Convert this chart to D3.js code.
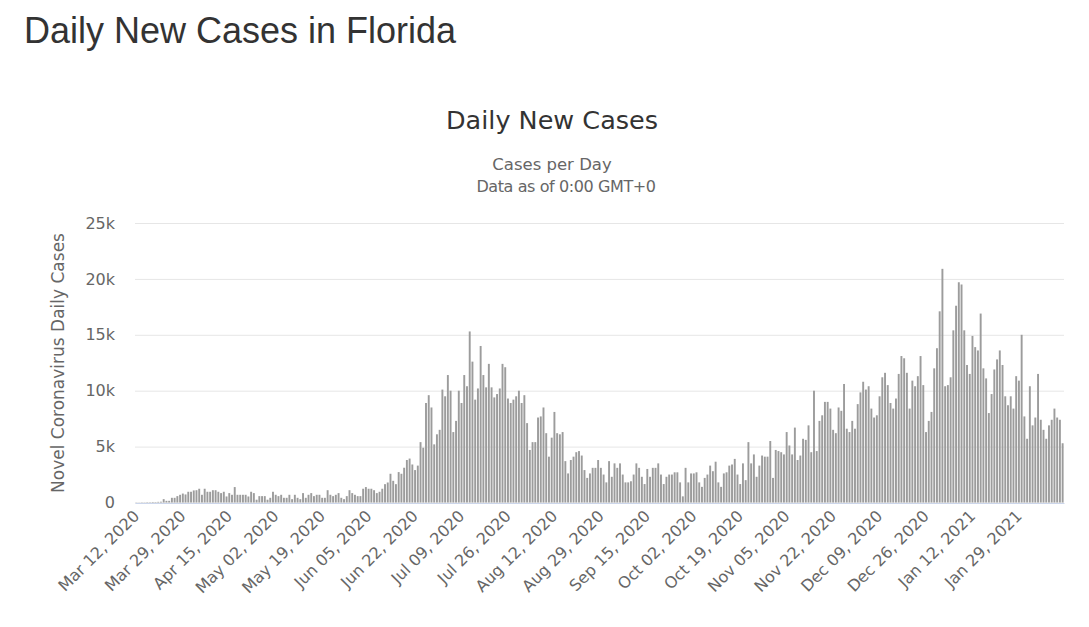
<!DOCTYPE html>
<html>
<head>
<meta charset="utf-8">
<script src="https://cdn.jsdelivr.net/npm/d3@7"></script>
<style>
  body { margin: 0; background: #fff; }
  text { font-family: "DejaVu Sans", sans-serif; }
</style>
</head>
<body>
<div id="chart"></div>
<script>
// daily new cases in Florida, Mar 12 2020 onward (one value per day)
var startDay = "2020-03-12";
var cases = [
  14, 9, 22, 17, 31, 28, 46, 39, 58, 70,
  300, 150, 150, 420, 420, 570, 690, 800, 720, 960,
  960, 1080, 1100, 1230, 690, 1230, 960, 960, 1100, 1100,
  960, 840, 960, 540, 840, 690, 1380, 690, 690, 690,
  690, 540, 960, 840, 250, 570, 570, 570, 250, 420,
  960, 690, 570, 690, 420, 420, 690, 300, 690, 420,
  300, 840, 420, 690, 840, 570, 690, 690, 420, 420,
  1100, 690, 570, 690, 840, 420, 300, 570, 1100, 840,
  690, 570, 570, 1230, 1380, 1230, 1230, 1100, 840, 960,
  1230, 1640, 1790, 2570, 1940, 1640, 2720, 2570, 3110, 3800,
  3930, 3400, 2900, 3300, 5400, 4900, 8900, 9600, 8500, 5200,
  6100, 6500, 10100, 9500, 11400, 10000, 6300, 7300, 10000, 8900,
  11400, 10400, 15300, 12600, 9200, 10200, 14000, 11400, 10300, 12400,
  10300, 9400, 9700, 10200, 12400, 12100, 9300, 8900, 9200, 9500,
  10000, 8900, 9600, 7100, 4700, 5400, 5400, 7600, 7700, 8500,
  6200, 4100, 5800, 8100, 6200, 6100, 6300, 3700, 2600, 3800,
  4100, 4500, 4600, 4200, 2900, 2200, 2600, 3100, 3100, 3800,
  3100, 2500, 1800, 3700, 2300, 3500, 3100, 3500, 2500, 1800,
  1800, 1900, 2500, 3500, 3100, 2300, 1650, 3000, 2300, 3100,
  3100, 3500, 2500, 1650, 2300, 2500, 2500, 2700, 2700, 1800,
  550, 3100, 1800, 2600, 2600, 2700, 1800, 1400, 2200, 2500,
  3300, 2800, 3650, 1800, 1400, 2600, 2700, 3300, 3400, 3900,
  2500, 1650, 3500, 2000, 5400, 3500, 4300, 2300, 3300, 4200,
  4100, 4100, 5500, 2200, 4700, 4600, 4500, 4300, 6300, 5100,
  4300, 6700, 3800, 4200, 5700, 5600, 6900, 4500, 10000, 4600,
  7300, 7800, 9000, 9000, 8400, 6500, 6200, 8500, 8200, 10600,
  6600, 6300, 7300, 6600, 8800, 9850, 10800, 10100, 10400, 8400,
  7600, 7800, 9500, 11200, 11600, 10500, 8900, 8400, 9300, 11500,
  13100, 12900, 11600, 8400, 10900, 10400, 11300, 13100, 10500, 6300,
  7300, 8100, 12000, 13800, 17100, 20900, 10400, 10500, 11200, 15400,
  17600, 19700, 19500, 15400, 12300, 11500, 14900, 13900, 13600, 16900,
  12000, 11100, 8000, 9700, 11900, 12800, 13600, 12300, 9500, 8700,
  9500, 8400, 11300, 10900, 15000, 7700, 5700, 10400, 6900, 7600,
  11500, 7400, 6500, 5700, 6900, 7400, 8400, 7600, 7400, 5300
];
var tickLabels = [
  "Mar 12, 2020", "Mar 29, 2020", "Apr 15, 2020", "May 02, 2020", "May 19, 2020",
  "Jun 05, 2020", "Jun 22, 2020", "Jul 09, 2020", "Jul 26, 2020", "Aug 12, 2020",
  "Aug 29, 2020", "Sep 15, 2020", "Oct 02, 2020", "Oct 19, 2020", "Nov 05, 2020",
  "Nov 22, 2020", "Dec 09, 2020", "Dec 26, 2020", "Jan 12, 2021", "Jan 29, 2021"
];
var yTicks = [0, 5000, 10000, 15000, 20000, 25000];

// categories: one per day
var parse = d3.timeParse("%Y-%m-%d");
var fmt = d3.timeFormat("%b %d, %Y");
var first = parse(startDay);
var days = cases.map(function(d, i) { return fmt(d3.timeDay.offset(first, i)); });
var data = cases.map(function(v, i) { return {day: days[i], value: v}; });

var W = 1089, H = 627;
var margin = {top: 223, right: 25, bottom: 124, left: 135};

var svg = d3.select("#chart")
  .append("svg")
    .attr("width", W)
    .attr("height", H);

// page heading
svg.append("text")
  .attr("x", 24).attr("y", 43)
  .style("font-family", "'Liberation Sans', Arial, sans-serif")
  .style("font-size", "36px")
  .style("fill", "#333")
  .text("Daily New Cases in Florida");

// chart title + subtitle
svg.append("text")
  .attr("x", 552).attr("y", 129)
  .attr("text-anchor", "middle")
  .style("font-size", "25.5px")
  .style("fill", "#333")
  .text("Daily New Cases");
svg.append("text")
  .attr("x", 552).attr("y", 170)
  .attr("text-anchor", "middle")
  .style("font-size", "16.5px")
  .style("fill", "#666")
  .text("Cases per Day");
svg.append("text")
  .attr("x", 566).attr("y", 192)
  .attr("text-anchor", "middle")
  .style("font-size", "16px")
  .style("letter-spacing", "-0.4px")
  .style("fill", "#666")
  .text("Data as of 0:00 GMT+0");

// scales
var x = d3.scaleBand()
  .domain(days)
  .range([margin.left, W - margin.right])
  .paddingInner(0.3)
  .paddingOuter(0.15);

var y = d3.scaleLinear()
  .domain([0, 25000])
  .range([H - margin.bottom - 0.5, margin.top]);

// grid lines and y labels
var yAxis = d3.axisLeft(y)
  .tickValues(yTicks)
  .tickSize(-(W - margin.right - margin.left))
  .tickPadding(20)
  .tickFormat(function(d) { return d === 0 ? "0" : (d / 1000) + "k"; });

var gy = svg.append("g")
  .attr("transform", "translate(" + margin.left + ",0)")
  .call(yAxis);
gy.select(".domain").remove();
gy.selectAll(".tick line").attr("stroke", "#e6e6e6");
gy.selectAll(".tick text")
  .style("font-size", "16px")
  .style("fill", "#666");

// y axis title
svg.append("text")
  .attr("transform", "translate(64," + 363 + ") rotate(-90)")
  .attr("text-anchor", "middle")
  .style("font-size", "17px")
  .style("fill", "#666")
  .text("Novel Coronavirus Daily Cases");

// bars
svg.append("g")
  .selectAll("rect")
  .data(data)
  .enter()
  .append("rect")
    .attr("x", function(d) { return x(d.day); })
    .attr("width", x.bandwidth())
    .attr("y", function(d) { return y(d.value); })
    .attr("height", function(d) { return y(0) - y(d.value); })
    .style("fill", "#9c9c9c");

// x axis: a label every 17 days
var xAxis = d3.axisBottom(x)
  .tickValues(tickLabels)
  .tickSize(0)
  .tickPadding(0);

var gx = svg.append("g")
  .attr("transform", "translate(0," + (H - margin.bottom) + ")")
  .call(xAxis);
gx.select(".domain").attr("stroke", "#ccd6eb");
gx.selectAll(".tick text")
  .style("font-size", "16px")
  .style("fill", "#666")
  .attr("text-anchor", "end")
  .attr("dy", 0)
  .attr("transform", "translate(4,14) rotate(-45)");
</script>
</body>
</html>
